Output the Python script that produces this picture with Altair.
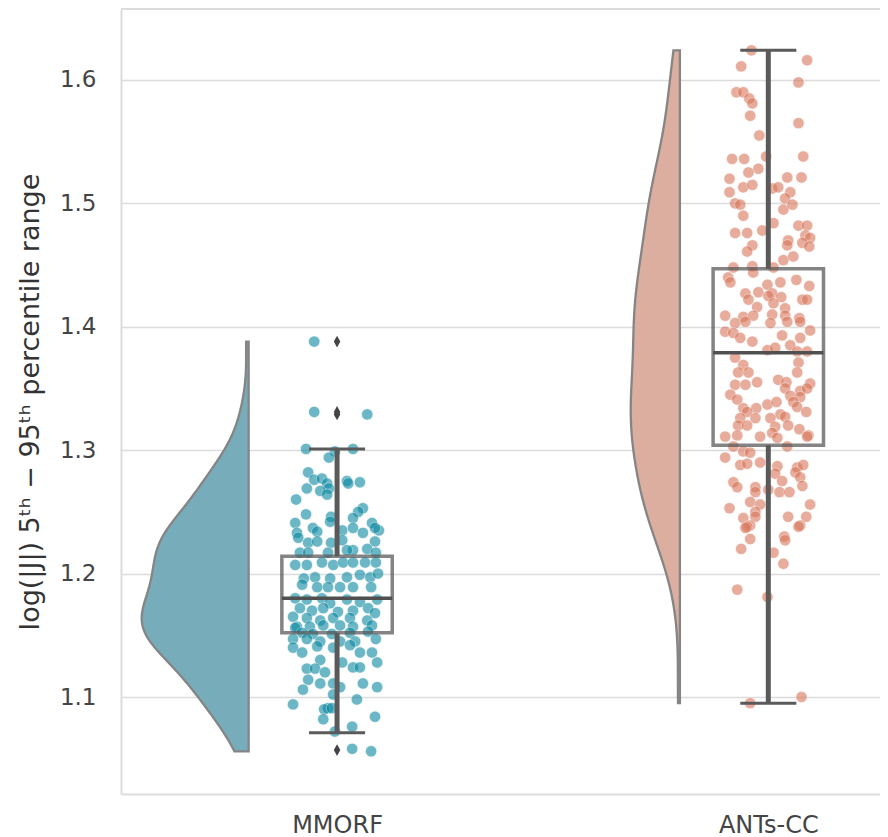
import altair as alt
import pandas as pd

# ---------------- data ----------------
groups = ["MMORF", "ANTs-CC"]
group_pos = [0, 1]

mmorf_values = [1.388, 1.331, 1.329, 1.301, 1.299, 1.301, 1.294, 1.282, 1.276, 1.277,
                1.273, 1.269, 1.275, 1.273, 1.274, 1.269, 1.267, 1.264, 1.260, 1.253,
                1.250, 1.248, 1.246, 1.245, 1.241, 1.242, 1.241, 1.237, 1.234, 1.233,
                1.235, 1.237, 1.233, 1.235, 1.237, 1.229, 1.225, 1.226, 1.225, 1.227,
                1.226, 1.219, 1.219, 1.220, 1.217, 1.217, 1.217, 1.217, 1.207, 1.207,
                1.209, 1.207, 1.209, 1.209, 1.209, 1.209, 1.196, 1.197, 1.196, 1.197,
                1.199, 1.197, 1.200, 1.191, 1.189, 1.189, 1.189, 1.189, 1.189, 1.180,
                1.179, 1.180, 1.176, 1.179, 1.177, 1.179, 1.172, 1.170, 1.172, 1.169,
                1.170, 1.172, 1.168, 1.165, 1.164, 1.162, 1.164, 1.164, 1.162, 1.157,
                1.157, 1.158, 1.158, 1.157, 1.158, 1.156, 1.152, 1.151, 1.151, 1.152,
                1.153, 1.147, 1.147, 1.145, 1.145, 1.145, 1.147, 1.140, 1.136, 1.141,
                1.140, 1.142, 1.136, 1.136, 1.130, 1.128, 1.124, 1.128, 1.123, 1.123,
                1.120, 1.124, 1.114, 1.111, 1.111, 1.111, 1.106, 1.108, 1.108, 1.102,
                1.098, 1.094, 1.091, 1.090, 1.091, 1.082, 1.084, 1.076, 1.072, 1.058,
                1.056]
# horizontal jitter, in hundredths of the category spacing
mmorf_jitter = [-5.3, -5.3, 7.0, -7.2, -0.5, 3.7, -1.9, -6.7, -5.3, -3.5,
                -2.3, -1.9, 2.3, 2.6, 5.3, -7.0, -3.9, -2.3, -9.5, 6.0,
                4.9, -7.2, -1.4, 3.7, -9.7, -1.6, 8.1, -5.6, -4.6, -9.3,
                1.2, 3.7, 6.0, 9.7, 8.8, -9.0, -6.7, -4.6, -1.4, 1.2,
                8.8, 3.7, 2.3, 7.0, -8.6, -6.7, -2.1, 9.0, -9.7, -7.0,
                -3.5, -0.9, 1.4, 3.7, 6.5, 9.0, -7.7, -5.1, -1.6, 2.3,
                5.3, 7.7, 9.5, -8.1, -4.6, -2.1, 0.7, 3.7, 7.9, -9.7,
                -7.0, -3.5, -1.6, 2.3, 5.3, 9.3, -8.6, -5.8, -3.2, 0.2,
                3.7, 7.2, 8.8, -10.2, -7.0, -3.9, -0.9, 3.0, 7.0, -9.3,
                -6.3, -3.2, 0.7, 3.7, 8.1, -9.7, -8.1, -5.6, -1.2, 3.0,
                7.2, -10.2, -7.0, -3.9, 0.7, 4.2, 9.0, -10.2, -8.1, -4.6,
                -0.9, 3.0, 5.3, 8.1, -3.9, 1.2, 3.7, 9.3, -7.0, -5.1,
                -2.8, 5.3, -6.7, -3.9, -0.9, 6.0, -7.9, 0.7, 9.3, -0.9,
                4.6, -10.2, -2.1, -3.0, -1.2, -3.2, 8.8, 3.5, -0.5, 3.5,
                7.9]

ants_values = [1.624, 1.616, 1.611, 1.598, 1.590, 1.590, 1.585, 1.581, 1.571, 1.565,
               1.555, 1.536, 1.536, 1.538, 1.538, 1.528, 1.525, 1.520, 1.521, 1.521,
               1.509, 1.513, 1.515, 1.512, 1.513, 1.509, 1.504, 1.500, 1.499, 1.495,
               1.499, 1.490, 1.484, 1.482, 1.482, 1.476, 1.476, 1.478, 1.474, 1.472,
               1.470, 1.468, 1.466, 1.466, 1.465, 1.461, 1.454, 1.457, 1.449, 1.448,
               1.448, 1.440, 1.444, 1.436, 1.434, 1.436, 1.438, 1.433, 1.427, 1.428,
               1.427, 1.422, 1.425, 1.424, 1.422, 1.422, 1.416, 1.419, 1.415, 1.409,
               1.408, 1.409, 1.410, 1.409, 1.407, 1.403, 1.404, 1.403, 1.404, 1.404,
               1.396, 1.395, 1.391, 1.388, 1.393, 1.385, 1.391, 1.397, 1.381, 1.383,
               1.380, 1.380, 1.375, 1.371, 1.369, 1.363, 1.363, 1.363, 1.357, 1.355,
               1.354, 1.353, 1.353, 1.355, 1.350, 1.348, 1.350, 1.345, 1.344, 1.343,
               1.341, 1.339, 1.337, 1.339, 1.334, 1.334, 1.335, 1.331, 1.331, 1.329,
               1.327, 1.326, 1.326, 1.326, 1.320, 1.319, 1.320, 1.320, 1.317, 1.314,
               1.312, 1.311, 1.312, 1.311, 1.310, 1.311, 1.303, 1.299, 1.298, 1.303,
               1.294, 1.288, 1.289, 1.290, 1.287, 1.286, 1.288, 1.281, 1.282, 1.278,
               1.274, 1.275, 1.270, 1.270, 1.266, 1.268, 1.266, 1.266, 1.271, 1.258,
               1.256, 1.256, 1.253, 1.250, 1.246, 1.245, 1.246, 1.246, 1.239, 1.238,
               1.239, 1.238, 1.237, 1.230, 1.227, 1.228, 1.220, 1.217, 1.208, 1.187,
               1.181, 1.100, 1.095]
ants_jitter = [-3.9, 9.0, -6.3, 7.0, -7.4, -5.8, -4.4, -3.7, -4.2, 7.0,
               -2.1, -8.4, -5.6, -0.5, 8.1, -2.3, -4.6, -9.0, 4.4, 7.7,
               -9.0, -5.8, -3.7, 0.9, 2.3, 5.1, 3.9, -7.7, -6.5, 3.5,
               5.6, -5.8, 1.2, 7.0, 9.0, -7.7, -4.9, -1.4, 8.6, 9.7,
               4.6, 7.9, -3.7, 4.4, 9.5, -4.9, 3.5, 5.8, -3.7, -8.1,
               1.2, -9.3, -3.5, -8.8, -0.2, 2.8, 6.5, 9.5, -5.3, -2.3,
               0.9, -4.6, 0.0, 3.0, 7.9, 9.0, -2.6, 1.2, 3.9, -10.0,
               -5.8, -3.5, 0.9, 3.9, 7.2, -7.7, -5.3, 0.5, 4.4, 7.4,
               -10.0, -8.1, -6.5, -3.7, 3.2, 5.1, 7.4, 9.7, -0.2, 1.6,
               6.7, 9.0, -7.7, 7.0, -5.8, 6.7, -7.0, -4.6, 2.3, 4.2,
               9.7, -7.7, -5.3, -2.6, 3.9, 7.4, 9.0, -8.8, 5.1, 7.4,
               -7.2, 5.8, -0.2, 1.9, -5.8, -2.8, 6.7, 8.8, -4.9, 2.8,
               3.9, -6.5, -3.0, 0.5, -7.0, 1.6, 4.6, -4.9, 7.2, 0.9,
               9.3, -10.0, -7.2, -1.9, 2.1, 9.0, -8.1, -5.8, -4.2, 4.4,
               -10.0, -6.5, -4.9, -1.9, 2.1, 6.7, 8.1, 1.6, 6.3, 7.4,
               -8.1, 3.2, -3.0, -7.2, -3.0, 0.0, 2.6, 4.9, 7.9, -4.2,
               -1.9, 9.7, -9.0, -3.0, -3.0, -5.8, 4.6, 8.8, 7.4, 7.0,
               -4.2, -4.9, -5.3, 3.7, 3.9, -4.2, -6.3, 1.2, 3.5, -7.2,
               -0.2, 7.7, -4.2]

# box-plot statistics
box_q1 = [1.152, 1.304]
box_median = [1.180, 1.379]
box_q3 = [1.214, 1.447]
whisker_low = [1.071, 1.095]
whisker_high = [1.301, 1.624]

outlier_groups = ["MMORF", "MMORF", "MMORF", "MMORF"]
outlier_values = [1.388, 1.331, 1.329, 1.057]

# KDE bandwidth and half-violin peak width (category units) per group
kde_bandwidth = [0.022, 0.036]
violin_peak = [0.248, 0.114]

point_colors = ["#0a88a0", "#d8765a"]
violin_colors = ["#77adba", "#dcaea0"]

# ---------------- tables ----------------
n_m = min(len(mmorf_values), len(mmorf_jitter))
n_a = min(len(ants_values), len(ants_jitter))
points = pd.DataFrame({
    "group": ["MMORF"] * n_m + ["ANTs-CC"] * n_a,
    "pos": [0] * n_m + [1] * n_a,
    "value": mmorf_values[:n_m] + ants_values[:n_a],
    "jitter": mmorf_jitter[:n_m] + ants_jitter[:n_a],
})
group_values = [mmorf_values, ants_values]
boxes = pd.DataFrame({
    "group": groups, "pos": group_pos, "q1": box_q1, "med": box_median,
    "q3": box_q3, "lo": whisker_low, "hi": whisker_high,
})
outliers = pd.DataFrame({
    "group": outlier_groups,
    "pos": [group_pos[groups.index(g)] for g in outlier_groups],
    "value": outlier_values,
})

XS = alt.Scale(domain=[-0.501, 1.259], nice=False, zero=False)
YS = alt.Scale(domain=[1.0214, 1.6575], nice=False, zero=False)
GRID = "#dcdcdc"
LABEL_COLOR = "#444444"

y_axis = alt.Axis(
    values=[1.1, 1.2, 1.3, 1.4, 1.5, 1.6], format=".1f", grid=True,
    gridColor=GRID, gridWidth=1.6, domainColor=GRID, domainWidth=2,
    ticks=False, labelFontSize=23, labelColor=LABEL_COLOR, labelPadding=25,
    labelFont="DejaVu Sans",
    title="log(|J|) 5ᵗʰ − 95ᵗʰ percentile range", titleFont="DejaVu Sans",
    titleFontSize=27, titleFontWeight="normal", titleColor="#333333",
    titlePadding=15,
)
x_axis = alt.Axis(
    values=[0, 1], labelExpr="datum.value == 0 ? 'MMORF' : 'ANTs-CC'",
    grid=False, ticks=False, domainColor=GRID, domainWidth=2,
    labelFontSize=24, labelColor=LABEL_COLOR, labelPadding=19,
    labelFont="DejaVu Sans", title=None,
)


def half_violin(i, with_axes):
    g = groups[i]
    vals = group_values[i]
    enc_y = alt.Y("value:Q", scale=YS, axis=y_axis) if with_axes else alt.Y("value:Q", scale=YS)
    enc_x = alt.X("xl:Q", scale=XS, axis=x_axis) if with_axes else alt.X("xl:Q", scale=XS)
    return alt.Chart(points).transform_filter(
        alt.datum.group == g
    ).transform_density(
        "value", as_=["value", "density"], bandwidth=kde_bandwidth[i],
        extent=[min(vals), max(vals)], steps=300,
    ).transform_joinaggregate(
        maxd="max(density)"
    ).transform_calculate(
        xr=f"{group_pos[i]} - 0.205",
        xl=f"{group_pos[i]} - 0.205 - datum.density / datum.maxd * {violin_peak[i]}",
    ).mark_area(
        orient="horizontal", stroke="#858585", strokeWidth=2.3, opacity=1,
        fill=violin_colors[i],
    ).encode(y=enc_y, x=enc_x, x2="xr:Q")


violin_m = half_violin(0, True)
violin_a = half_violin(1, False)

dots = alt.Chart(points).transform_calculate(
    xj="datum.pos + datum.jitter / 100"
).mark_circle(size=130, opacity=0.6, stroke="white", strokeWidth=0.6).encode(
    x=alt.X("xj:Q", scale=XS),
    y=alt.Y("value:Q", scale=YS),
    color=alt.Color("group:N", scale=alt.Scale(domain=groups, range=point_colors), legend=None),
)

box_base = alt.Chart(boxes).transform_calculate(
    bl="datum.pos - 0.128", br="datum.pos + 0.128",
    cl="datum.pos - 0.065", cr="datum.pos + 0.065",
)
box_rect = box_base.mark_rect(fillOpacity=0, stroke="#555555", strokeOpacity=0.72, strokeWidth=3.5).encode(
    x=alt.X("bl:Q", scale=XS), x2="br:Q",
    y=alt.Y("q1:Q", scale=YS), y2="q3:Q",
)
median = box_base.mark_rule(color="#505050", strokeWidth=3.5).encode(
    x=alt.X("bl:Q", scale=XS), x2="br:Q", y=alt.Y("med:Q", scale=YS),
)
whisk_up = box_base.mark_rule(color="#5a5a5a", strokeWidth=5).encode(
    x=alt.X("pos:Q", scale=XS), y=alt.Y("q3:Q", scale=YS), y2="hi:Q",
)
whisk_lo = box_base.mark_rule(color="#5a5a5a", strokeWidth=5).encode(
    x=alt.X("pos:Q", scale=XS), y=alt.Y("lo:Q", scale=YS), y2="q1:Q",
)
cap_hi = box_base.mark_rule(color="#5a5a5a", strokeWidth=3).encode(
    x=alt.X("cl:Q", scale=XS), x2="cr:Q", y=alt.Y("hi:Q", scale=YS),
)
cap_lo = box_base.mark_rule(color="#5a5a5a", strokeWidth=3).encode(
    x=alt.X("cl:Q", scale=XS), x2="cr:Q", y=alt.Y("lo:Q", scale=YS),
)
fliers = alt.Chart(outliers).mark_point(
    shape="M0,-1L0.55,0L0,1L-0.55,0Z", filled=True, color="#444444", size=140, opacity=1
).encode(
    x=alt.X("pos:Q", scale=XS), y=alt.Y("value:Q", scale=YS),
)

top_frame = alt.Chart(pd.DataFrame({"k": [0]})).mark_rule(color=GRID, strokeWidth=2).encode(
    x=alt.value(0), x2=alt.value(759), y=alt.value(0),
)

chart = alt.layer(
    violin_m, violin_a, dots, box_rect, whisk_up, whisk_lo, cap_hi, cap_lo, median, fliers, top_frame
).properties(
    width=759, height=785,
    autosize=alt.AutoSizeParams(type="none"),
    padding={"left": 113, "top": 1, "right": 0, "bottom": 44},
    background="white",
).configure_view(strokeWidth=0)

chart.save("out.html", embed_options={"renderer": "svg", "actions": False})
